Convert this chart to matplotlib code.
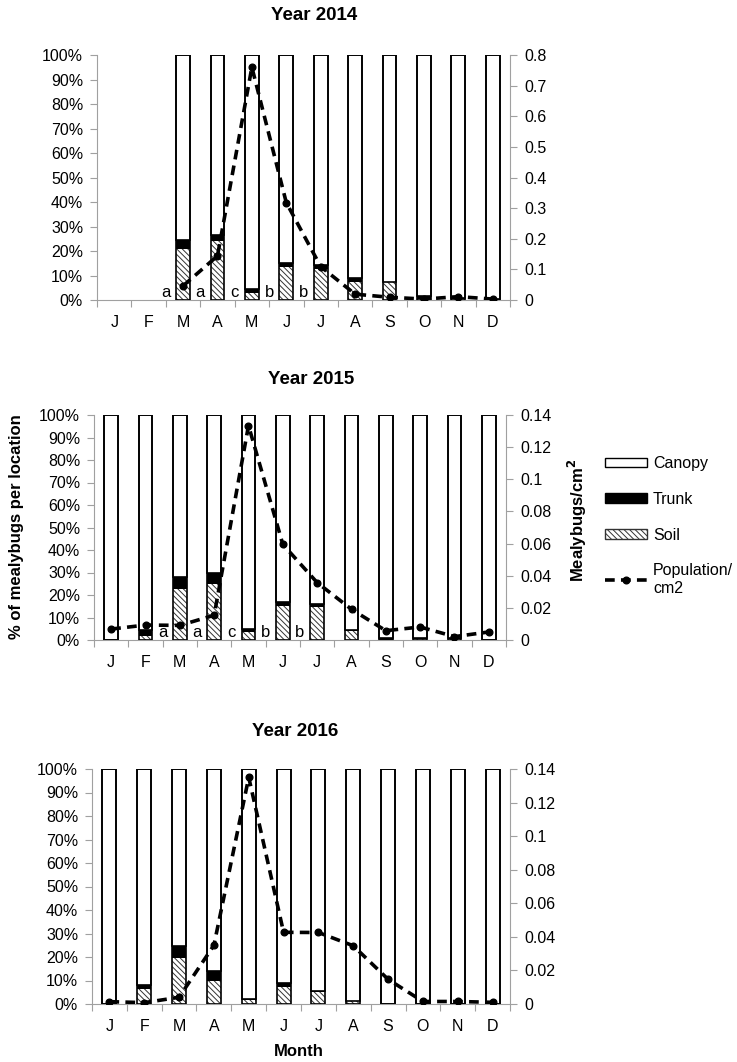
import numpy as np
import matplotlib
matplotlib.use('Agg')
import matplotlib.pyplot as plt
from matplotlib.patches import Patch
from matplotlib.lines import Line2D
from matplotlib.ticker import FuncFormatter

plt.rcParams['font.family'] = ['Liberation Sans', 'DejaVu Sans']
plt.rcParams['hatch.linewidth'] = 0.7
plt.rcParams['lines.scale_dashes'] = False

months = ['J', 'F', 'M', 'A', 'M', 'J', 'J', 'A', 'S', 'O', 'N', 'D']
nan = np.nan

# % of mealybugs in soil / trunk (canopy is the rest up to 100)
soil_2014 = np.array([nan, nan, 20.8, 24.1, 2.7, 13.3, 12.5, 7.5, 7.2, 0.3, 0.5, 0.3])
trunk_2014 = np.array([nan, nan, 3.6, 2.4, 1.7, 1.7, 1.6, 1.6, 0.2, 1.2, 0.3, 0.2])
pop_2014 = np.array([nan, nan, 0.046, 0.144, 0.76, 0.318, 0.109, 0.019, 0.009, 0.003, 0.011, 0.003])

soil_2015 = np.array([0, 1.8, 22.7, 24.9, 3.7, 15.3, 14.7, 4.0, 0, 0.6, 0.6, 0])
trunk_2015 = np.array([0, 2.6, 5.4, 5.0, 1.0, 1.6, 1.2, 0.4, 1.0, 0.2, 0.3, 0])
pop_2015 = np.array([0.0068, 0.0093, 0.0091, 0.0154, 0.1334, 0.0595, 0.0357, 0.0191, 0.0058, 0.0081, 0.0021, 0.005])

soil_2016 = np.array([0, 6.2, 19.4, 9.9, 1.7, 7.4, 5.2, 1.2, 0, 0, 0, 0])
trunk_2016 = np.array([0, 1.9, 5.3, 4.0, 0.6, 1.7, 0.4, 0.2, 0.2, 0, 0, 0])
pop_2016 = np.array([0.0014, 0.0008, 0.004, 0.035, 0.135, 0.0427, 0.0426, 0.0347, 0.0147, 0.0015, 0.0015, 0.001])

letters = ['a', 'a', 'c', 'b', 'b']
letter_pos = [1.5, 2.5, 3.5, 4.5, 5.5]

titles = ['Year 2014', 'Year 2015', 'Year 2016']
right_max = [0.8, 0.14, 0.14]
right_step = [0.1, 0.02, 0.02]

W, H = 737, 1062
fig = plt.figure(figsize=(W / 100, H / 100), dpi=100)

# axes boxes in pixels: left, right, top(100%), bottom(0%)
boxes = [(97, 510, 55, 300), (94, 506, 415, 640), (92, 510, 769, 1004)]
title_xy = [(314, 15), (311, 379), (295, 732)]

GRAY = '#a0a0a0'
HATCH = '\\\\\\\\\\\\'
FS = 11.5
LW = 2.6
DASH = (7, 4.5)

data = [(soil_2014, trunk_2014, pop_2014), (soil_2015, trunk_2015, pop_2015),
        (soil_2016, trunk_2016, pop_2016)]

x = np.arange(12)
w = 0.4
for i, (soil, trunk, pop) in enumerate(data):
    l, r, t, b = boxes[i]
    ax = fig.add_axes([l / W, 1 - b / H, (r - l) / W, (b - t) / H])
    ok = np.isfinite(soil)
    canopy = 100 - soil - trunk
    ax.bar(x[ok], soil[ok], w, color='white', edgecolor='#333333', hatch=HATCH,
           linewidth=0, zorder=2)
    ax.bar(x[ok], trunk[ok], w, bottom=soil[ok], color='black', linewidth=0, zorder=2)
    ax.bar(x[ok], canopy[ok], w, bottom=(soil + trunk)[ok], color='white',
           edgecolor='black', linewidth=1.2, zorder=2)
    ax.bar(x[ok], np.full(ok.sum(), 100.0), w, fill=False, edgecolor='black',
           linewidth=1.2, zorder=3)

    ax.set_xlim(-0.5, 11.5)
    ax.set_ylim(0, 100)
    ax.set_yticks(np.arange(0, 101, 10))
    ax.yaxis.set_major_formatter(FuncFormatter(lambda v, p: f'{v:.0f}%'))
    ax.set_xticks(np.arange(-0.5, 12, 1))
    ax.set_xticklabels([])
    ax.set_xticks(x, minor=True)
    ax.set_xticklabels(months, minor=True)
    ax.tick_params(axis='x', which='major', length=5, color=GRAY)
    ax.tick_params(axis='x', which='minor', length=0, pad=11, labelsize=FS)
    ax.tick_params(axis='y', length=5, color=GRAY, pad=5, labelsize=FS)
    for s in ['top', 'right']:
        ax.spines[s].set_visible(False)
    for s in ['left', 'bottom']:
        ax.spines[s].set_color(GRAY)

    if i < 2:
        for lt, lp in zip(letters, letter_pos):
            ax.text(lp, 0, lt, ha='center', va='bottom', fontsize=FS + 0.5, zorder=4)

    ax2 = ax.twinx()
    ax2.plot(x, pop, color='black', linewidth=LW, dashes=DASH, marker='o',
             markersize=4.8, zorder=5)
    ax2.set_ylim(0, right_max[i])
    ax2.set_yticks(np.arange(0, right_max[i] + 1e-9, right_step[i]))
    ax2.yaxis.set_major_formatter(FuncFormatter(lambda v, p: f'{round(v, 3):g}'))
    ax2.tick_params(axis='y', length=5, color=GRAY, pad=5, labelsize=FS)
    for s in ['top', 'left', 'bottom']:
        ax2.spines[s].set_visible(False)
    ax2.spines['right'].set_color(GRAY)

    tx, ty = title_xy[i]
    fig.text(tx / W, 1 - ty / H, titles[i], ha='center', va='center',
             fontsize=13.5, fontweight='bold')

fig.text(17 / W, 1 - 527 / H, '% of mealybugs per location', rotation=90,
         ha='center', va='center', fontsize=12, fontweight='bold')
fig.text(577 / W, 1 - 520 / H, 'Mealybugs/cm$^\\mathbf{2}$', rotation=90,
         ha='center', va='center', fontsize=12, fontweight='bold')
fig.text(299 / W, 1 - 1052 / H, 'Month', ha='center', va='center',
         fontsize=12, fontweight='bold')

handles = [
    Patch(facecolor='white', edgecolor='black', linewidth=1.0),
    Patch(facecolor='black', edgecolor='black', linewidth=1.0),
    Patch(facecolor='white', edgecolor='#333333', hatch=HATCH, linewidth=1.0),
    Line2D([], [], color='black', linewidth=LW, dashes=DASH, marker='o', markersize=4.8),
]
labels = ['Canopy', 'Trunk', 'Soil', 'Population/\ncm2']
fig.legend(handles, labels, loc='upper left', bbox_to_anchor=(605 / W, 1 - 456 / H),
           frameon=False, fontsize=FS, borderpad=0, borderaxespad=0,
           handlelength=2.6, handleheight=0.55, handletextpad=0.4, labelspacing=1.3)

fig.savefig('out.png', dpi=100)
